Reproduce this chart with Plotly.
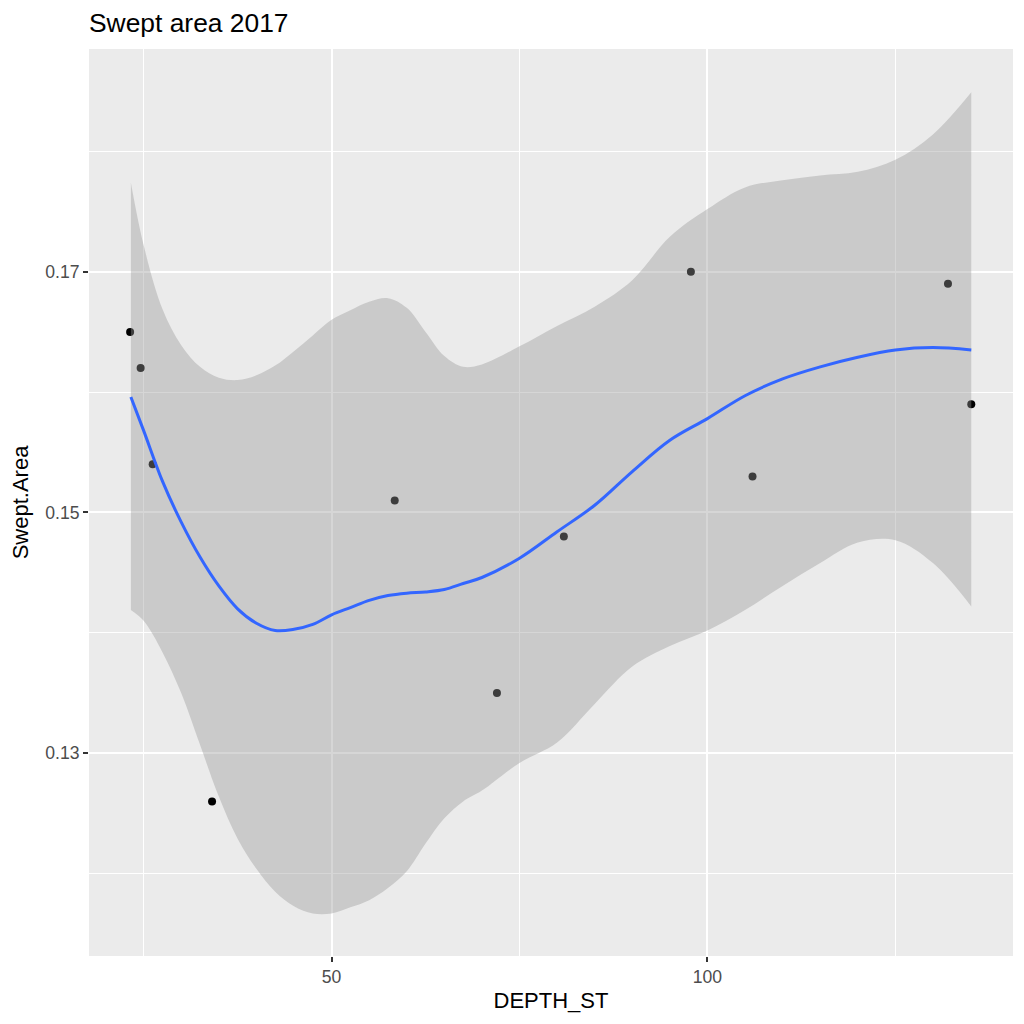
import plotly.graph_objects as go

# Observed data points
depth = [23.2, 24.6, 26.2, 34.1, 58.4, 72.0, 80.9, 97.8, 106.0, 132.0, 135.1]
swept = [0.165, 0.162, 0.154, 0.126, 0.151, 0.135, 0.148, 0.170, 0.153, 0.169, 0.159]

# Smoothed curve (loess) and its confidence band
smooth_x = [23.3, 25, 27.5, 30, 32.5, 35, 37.5, 40, 42.5, 45, 47.5, 50, 52.5, 55, 57.5,
            60, 62.5, 65, 67.5, 70, 75, 80, 85, 90, 95, 100, 105, 110, 115, 120, 125,
            130, 135.1]
smooth_fit = [0.1596, 0.1568, 0.1526, 0.1492, 0.1463, 0.1439, 0.1420, 0.1408, 0.1402,
              0.1403, 0.1407, 0.1415, 0.1421, 0.1427, 0.1431, 0.1433, 0.1434, 0.1436,
              0.1441, 0.1446, 0.1462, 0.1484, 0.1506, 0.1534, 0.1560, 0.1578, 0.1597,
              0.1611, 0.1621, 0.1629, 0.1635, 0.1637, 0.1635]
smooth_upper = [0.1774, 0.1722, 0.1669, 0.1639, 0.1621, 0.1612, 0.1610, 0.1614, 0.1622,
                0.1634, 0.1647, 0.1660, 0.1668, 0.1675, 0.1678, 0.1670, 0.1650, 0.1630,
                0.1621, 0.1623, 0.1638, 0.1655, 0.1671, 0.1693, 0.1729, 0.1752, 0.1770,
                0.1776, 0.1780, 0.1783, 0.1793, 0.1814, 0.1849]
smooth_lower = [0.1419, 0.1410, 0.1384, 0.1350, 0.1307, 0.1264, 0.1229, 0.1204, 0.1185,
                0.1173, 0.1167, 0.1167, 0.1172, 0.1178, 0.1188, 0.1202, 0.1225, 0.1246,
                0.1260, 0.1269, 0.1292, 0.1309, 0.1341, 0.1372, 0.1389, 0.1402, 0.1419,
                0.1439, 0.1458, 0.1475, 0.1477, 0.1458, 0.1422]

x_ticks = [50, 100]
x_tick_labels = ["50", "100"]
x_minor = [25, 75, 125]
y_ticks = [0.13, 0.15, 0.17]
y_tick_labels = ["0.13", "0.15", "0.17"]
y_minor = [0.12, 0.14, 0.16, 0.18]

FONT = "Liberation Sans, Arial, sans-serif"
SMOOTH = 1.0

fig = go.Figure()

fig.add_trace(go.Scatter(
    x=depth, y=swept, mode="markers",
    marker=dict(color="black", size=8, line=dict(width=0)),
    showlegend=False, hoverinfo="x+y"))

fig.add_trace(go.Scatter(
    x=smooth_x, y=smooth_lower, mode="lines",
    line=dict(width=0, shape="spline", smoothing=SMOOTH),
    showlegend=False, hoverinfo="skip"))
fig.add_trace(go.Scatter(
    x=smooth_x, y=smooth_upper, mode="lines", fill="tonexty",
    fillcolor="rgba(153,153,153,0.4)",
    line=dict(width=0, shape="spline", smoothing=SMOOTH),
    showlegend=False, hoverinfo="skip"))

fig.add_trace(go.Scatter(
    x=smooth_x, y=smooth_fit, mode="lines",
    line=dict(color="#3366FF", width=3, shape="spline", smoothing=SMOOTH),
    showlegend=False))

axis_common = dict(
    showline=False, zeroline=False,
    showgrid=True, gridcolor="white", gridwidth=2,
    ticks="outside", ticklen=5, tickwidth=1.5, tickcolor="#333333",
    tickfont=dict(family=FONT, size=17.6, color="#4D4D4D"),
    automargin=False,
)

# The page body adds an 8px margin, so the figure is 1016px and margins are shifted.
fig.update_layout(
    width=1016, height=1016,
    margin=dict(l=81, r=11, t=41, b=68),
    paper_bgcolor="white", plot_bgcolor="#EBEBEB",
    font=dict(family=FONT, color="black"),
    title=dict(text="Swept area 2017", x=0, xref="paper", xanchor="left",
               y=1 - 14.5 / 1016, yref="container", yanchor="middle",
               font=dict(family=FONT, size=26.4, color="black")),
    xaxis=dict(range=[17.73, 140.65], tickmode="array", tickvals=x_ticks,
               ticktext=x_tick_labels,
               minor=dict(tickmode="array", tickvals=x_minor, showgrid=True,
                          gridcolor="white", gridwidth=1),
               title=dict(text="DEPTH_ST", font=dict(family=FONT, size=22, color="black"),
                          standoff=6),
               **axis_common),
    yaxis=dict(range=[0.11316, 0.18850], tickmode="array", tickvals=y_ticks,
               ticktext=y_tick_labels,
               minor=dict(tickmode="array", tickvals=y_minor, showgrid=True,
                          gridcolor="white", gridwidth=1),
               title=dict(text="Swept.Area", font=dict(family=FONT, size=22, color="black"),
                          standoff=14),
               **axis_common),
)

fig.write_html("out.html")
